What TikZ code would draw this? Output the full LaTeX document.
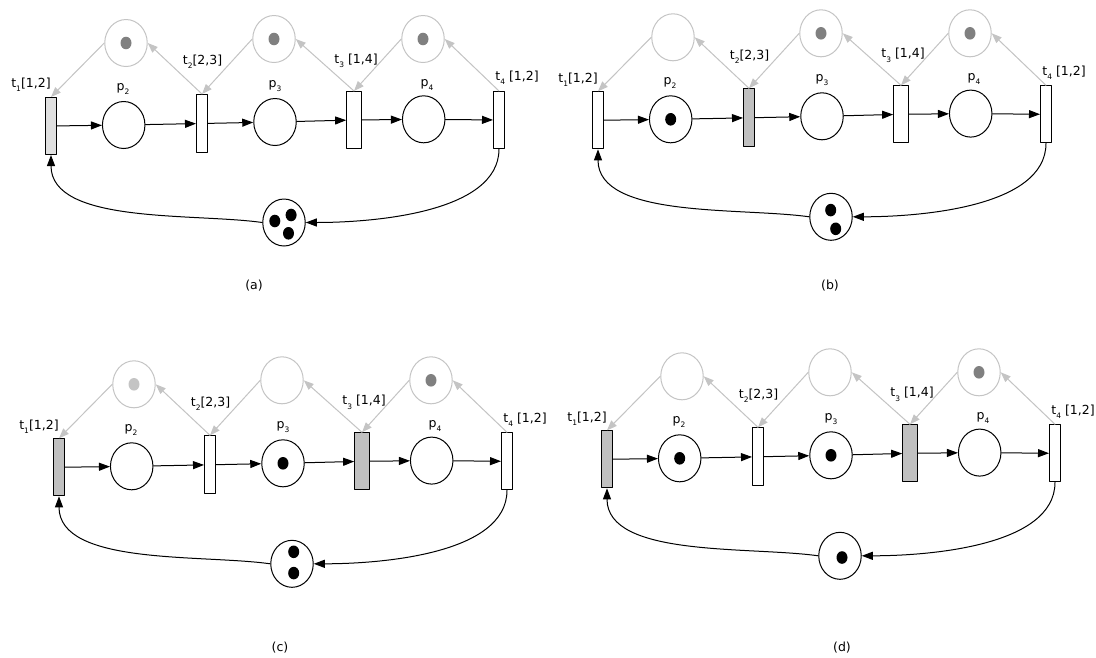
\documentclass[tikz,border=0pt]{standalone}
\usepackage{fontspec}
\setmainfont{DejaVu Sans}
\usetikzlibrary{arrows.meta,shapes.geometric}
\definecolor{ghostgray}{HTML}{C4C4C4}
\definecolor{firegray}{HTML}{C0C0C0}
\definecolor{litegray}{HTML}{E0E0E0}
\definecolor{markgray}{HTML}{808080}
\definecolor{paletok}{HTML}{C4C4C4}
\newcommand{\idx}[1]{\raisebox{-0.6ex}{\fontsize{7.5}{8}\selectfont #1}}
\newcommand{\tok}[2][black]{\fill[#1] (#2) ellipse[x radius=5.5pt, y radius=6.3pt];}
% one net, drawn in the current scope
\newcommand{\petrinet}{%
  \node[trans, fire1] (t1) at (51,126) {};
  \node[place] (p2) at (123.7,125) {};
  \node[trans, fire2, minimum height=58pt] (t2) at (202,123.5) {};
  \node[place] (p3) at (275,122) {};
  \node[trans, fire3, minimum width=14.7pt] (t3) at (354,120) {};
  \node[place] (p4) at (423.7,119.3) {};
  \node[trans] (t4) at (499,120) {};
  \node[ghost] (g1) at (126,43) {};
  \node[ghost] (g2) at (274,39) {};
  \node[ghost] (g3) at (423,39) {};
  \node[place] (p1) at (284,222.5) {};
  \node[lbl] (t1lbl) at (31,85) {t\idx{1}[1,2]};
  \node[lbl] (t2lbl) at (202.5,62) {t\idx{2}[2,3]};
  \node[lbl] (t3lbl) at (356,61) {t\idx{3} [1,4]};
  \node[lbl] (t4lbl) at (517,78) {t\idx{4} [1,2]};
  \node[lbl] (p2lbl) at (123,89) {p\idx{2}};
  \node[lbl] (p3lbl) at (275,86) {p\idx{3}};
  \node[lbl] (p4lbl) at (427,85) {p\idx{4}};
  \draw[arc] (t1) -- (p2);
  \draw[arc] (p2) -- (t2);
  \draw[arc] (t2) -- (p3);
  \draw[arc] (p3) -- (t3);
  \draw[arc] (t3) -- (p4);
  \draw[arc] (p4) -- (t4);
  \draw[arc] (t4.south) to[out=-90, in=0, looseness=0.8] (p1.east);
  \draw[arc] (p1.west) to[out=172, in=-90, looseness=0.8] (t1.south);
  \draw[ghostarc] (g1.west) -- (t1.north);
  \draw[ghostarc] (t2.north) -- (g1.east);
  \draw[ghostarc] (g2.west) -- (t2.north);
  \draw[ghostarc] (t3.north) -- (g2.east);
  \draw[ghostarc] (g3.west) -- (t3.north);
  \draw[ghostarc] (t4.north) -- (g3.east);
}
\begin{document}
\begin{tikzpicture}[x=1pt, y=-1pt, line cap=round, line join=round,
  place/.style={draw, ellipse, minimum width=42.5pt, minimum height=47pt, inner sep=0pt, line width=1pt},
  ghost/.style={place, draw=ghostgray},
  trans/.style={draw, rectangle, fill=white, minimum width=11pt, minimum height=57pt, inner sep=0pt, line width=1pt},
  fire1/.style={}, fire2/.style={}, fire3/.style={},
  arc/.style={-{Triangle[length=11pt, width=8pt]}, line width=1pt},
  ghostarc/.style={-{Triangle[length=10pt, width=7.5pt]}, draw=ghostgray, fill=ghostgray, line width=1pt},
  lbl/.style={inner sep=0pt, font=\fontsize{12.5}{15}\selectfont}]
  \useasboundingbox (0,0) rectangle (1096,657);
  % (a)
  \begin{scope}[name prefix=a-, fire1/.style={fill=litegray}]
    \petrinet
    \tok[markgray]{g1} \tok[markgray]{g2} \tok[markgray]{g3}
    \tok{[shift={(-9.2,-1.5)}]p1} \tok{[shift={(7.1,-7.5)}]p1} \tok{[shift={(4.5,10.8)}]p1}
  \end{scope}
  % (b)
  \begin{scope}[shift={(547,-5.7)}, name prefix=b-, fire2/.style={fill=firegray}]
    \petrinet
    \tok[markgray]{g2} \tok[markgray]{g3}
    \tok{p2}
    \tok{[shift={(-0.3,-6.7)}]p1} \tok{[shift={(4.7,12)}]p1}
  \end{scope}
  % (c)
  \begin{scope}[shift={(8,341.3)}, name prefix=c-, fire1/.style={fill=firegray}, fire3/.style={fill=firegray}]
    \petrinet
    \tok[paletok]{g1} \tok[markgray]{g3}
    \tok{p3}
    \tok{[shift={(1.7,-12)}]p1} \tok{[shift={(1.7,9.3)}]p1}
  \end{scope}
  % (d)
  \begin{scope}[shift={(556,333.3)}, name prefix=d-, fire1/.style={fill=firegray}, fire3/.style={fill=firegray}]
    \petrinet
    \tok[markgray]{g3}
    \tok{p2} \tok{p3}
    \tok{[shift={(2,1.7)}]p1}
  \end{scope}
  \node[lbl] (capa) at (254,286) {(a)};
  \node[lbl] (capb) at (830,286) {(b)};
  \node[lbl] (capc) at (280,648) {(c)};
  \node[lbl] (capd) at (842,648) {(d)};
\end{tikzpicture}
\end{document}
